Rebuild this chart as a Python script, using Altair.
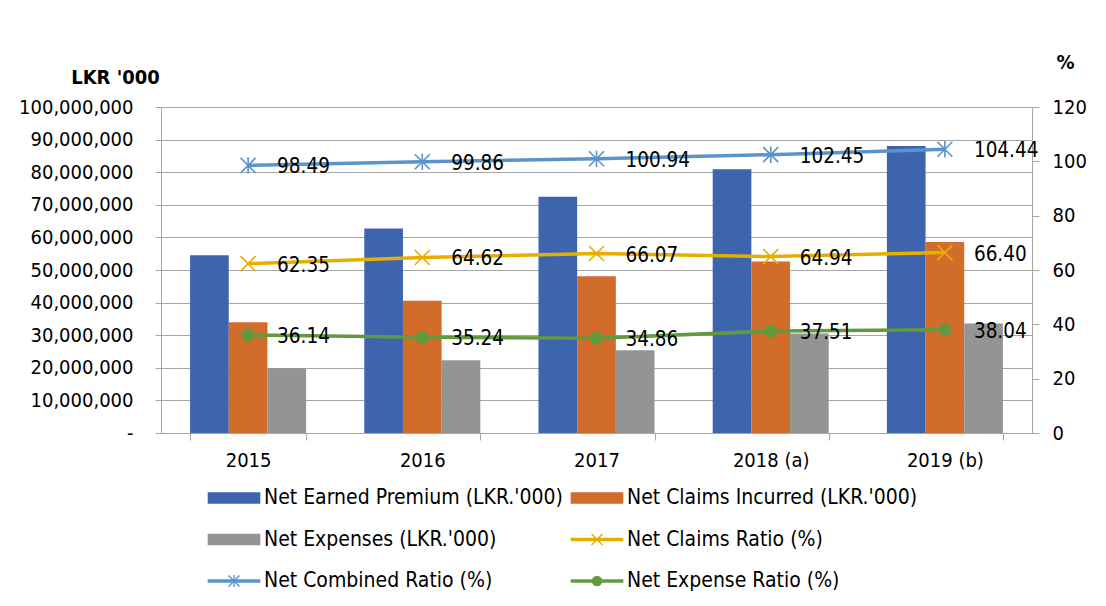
import altair as alt
import pandas as pd

FONT = "DejaVu Sans Condensed, Noto Sans, sans-serif"

years = ["2015", "2016", "2017", "2018 (a)", "2019 (b)"]

bar_series = ["Net Earned Premium (LKR.'000)", "Net Claims Incurred (LKR.'000)", "Net Expenses (LKR.'000)"]
net_earned_premium = [54_500_000, 62_700_000, 72_500_000, 80_900_000, 88_000_000]
net_claims_incurred = [34_000_000, 40_600_000, 48_100_000, 52_600_000, 58_600_000]
net_expenses = [19_900_000, 22_300_000, 25_400_000, 30_500_000, 33_600_000]

line_series = ["Net Claims Ratio (%)", "Net Combined Ratio (%)", "Net Expense Ratio (%)"]
net_claims_ratio = [62.35, 64.62, 66.07, 64.94, 66.40]
net_combined_ratio = [98.49, 99.86, 100.94, 102.45, 104.44]
net_expense_ratio = [36.14, 35.24, 34.86, 37.51, 38.04]

left_ticks = [0, 10_000_000, 20_000_000, 30_000_000, 40_000_000, 50_000_000,
              60_000_000, 70_000_000, 80_000_000, 90_000_000, 100_000_000]
right_ticks = [0, 20, 40, 60, 80, 100, 120]

all_series = bar_series + line_series
series_colors = ["#3d64ad", "#d26c2b", "#949494", "#e6ae00", "#5b93cb", "#63993e"]
X_PATH = "M-1,-1L1,1M-1,1L1,-1"
STAR_PATH = "M-1,-1L1,1M-1,1L1,-1M0,-1.1L0,1.1"
marker_shapes = [X_PATH, STAR_PATH, "circle"]

# ---- tables
bar_rows = []
for s, vals in zip(bar_series, [net_earned_premium, net_claims_incurred, net_expenses]):
    for y, v in zip(years, vals):
        bar_rows.append({"year": y, "series": s, "value": v})
bars_df = pd.DataFrame(bar_rows)

line_rows = []
for s, vals in zip(line_series, [net_claims_ratio, net_combined_ratio, net_expense_ratio]):
    for y, v in zip(years, vals):
        line_rows.append({"year": y, "series": s, "value": v})
lines_df = pd.DataFrame(line_rows)

color_scale = alt.Scale(domain=all_series, range=series_colors)
shape_scale = alt.Scale(domain=line_series, range=marker_shapes)

GRAY = "#a6a6a6"

x_axis = alt.Axis(title=None, labelFont=FONT, labelFontSize=20, labelColor="#000000",
                  labelPadding=10, tickBand="extent", tickSize=7, tickColor=GRAY,
                  domainColor=GRAY, labelAngle=0, grid=False)
x_scale = alt.Scale(domain=years, paddingInner=0.334, paddingOuter=0.167)

bars = alt.Chart(bars_df).mark_bar().encode(
    x=alt.X("year:N", scale=x_scale, axis=x_axis, sort=years),
    xOffset=alt.XOffset("series:N", sort=bar_series, scale=alt.Scale(paddingInner=0, paddingOuter=0)),
    y=alt.Y("value:Q", scale=alt.Scale(domain=[0, 100_000_000], nice=False),
            axis=alt.Axis(values=left_ticks, orient="left", grid=True, gridColor=GRAY,
                          domainColor=GRAY, tickColor=GRAY, tickSize=6, labelPadding=22,
                          labelFont=FONT, labelFontSize=20, labelColor="#000000",
                          labelExpr="datum.value == 0 ? '-\u00a0\u00a0' : format(datum.value, ',')",
                          title="LKR '000", titleAngle=0, titleX=-46, titleY=-30,
                          titleAlign="center", titleBaseline="middle", titleFont=FONT,
                          titleFontSize=20, titleFontWeight="bold", titleColor="#000000")),
    color=alt.Color("series:N", scale=color_scale, legend=None),
)

right_y = alt.Y("value:Q", scale=alt.Scale(domain=[0, 120], nice=False),
                axis=alt.Axis(values=right_ticks, orient="right", grid=False,
                              domainColor=GRAY, tickColor=GRAY, tickSize=7, labelPadding=13,
                              labelFont=FONT, labelFontSize=20, labelColor="#000000",
                              title="%", titleAngle=0, titleX=33, titleY=-45,
                              titleAlign="center", titleBaseline="middle", titleFont=FONT,
                              titleFontSize=20, titleFontWeight="bold", titleColor="#000000"))
line_x = alt.X("year:N", scale=x_scale, axis=x_axis, sort=years)

lines = alt.Chart(lines_df).mark_line(strokeWidth=3.5).encode(
    x=line_x, y=right_y,
    color=alt.Color("series:N", scale=color_scale, legend=None),
    detail="series:N",
)
stroke_pts = alt.Chart(lines_df).transform_filter(
    alt.FieldOneOfPredicate(field="series", oneOf=line_series[:2])
).mark_point(filled=False, size=225, strokeWidth=1.6, opacity=1).encode(
    x=line_x, y=right_y,
    shape=alt.Shape("series:N", scale=shape_scale, legend=None),
    color=alt.Color("series:N", scale=color_scale, legend=None),
)
circle_pts = alt.Chart(lines_df).transform_filter(
    alt.FieldEqualPredicate(field="series", equal=line_series[2])
).mark_point(filled=True, size=170, opacity=1).encode(
    x=line_x, y=right_y,
    shape=alt.Shape("series:N", scale=shape_scale, legend=None),
    color=alt.Color("series:N", scale=color_scale, legend=None),
)
labels = alt.Chart(lines_df).mark_text(align="left", baseline="middle", dx=29, dy=2,
                                       font=FONT, fontSize=20.5, color="#000000").encode(
    x=line_x, y=right_y,
    text=alt.Text("value:Q", format=".2f"),
)

right_layer = alt.layer(lines, stroke_pts, circle_pts, labels)
main = alt.layer(bars, right_layer).resolve_scale(y="independent").properties(width=871, height=326)

# ---- legend panel
leg_df = pd.DataFrame({
    "series": all_series,
    "row": [i // 2 for i in range(len(all_series))],
    "col": [i % 2 for i in range(len(all_series))],
    "kind": ["bar"] * len(bar_series) + ["line"] * len(line_series),
})
lx = alt.X("col:Q", scale=alt.Scale(domain=[0, 1], range=[73, 436]), axis=None)
ly = alt.Y("row:Q", scale=alt.Scale(domain=[0, 2], range=[0, 83]), axis=None)
lcolor = alt.Color("series:N", scale=color_scale, legend=None)

leg_rect = alt.Chart(leg_df).transform_filter("datum.kind == 'bar'").mark_point(
    filled=True, shape="M-1,-0.22H1V0.22H-1Z", size=2770, opacity=1
).encode(x=lx, y=ly, color=lcolor)
leg_line = alt.Chart(leg_df).transform_filter("datum.kind == 'line'").mark_point(
    filled=False, shape="M-1,0H1", size=2770, strokeWidth=3.5, opacity=1
).encode(x=lx, y=ly, color=lcolor)
leg_mark_stroke = alt.Chart(leg_df).transform_filter(
    alt.FieldOneOfPredicate(field="series", oneOf=line_series[:2])
).mark_point(filled=False, size=120, strokeWidth=1.4, opacity=1).encode(
    x=lx, y=ly, color=lcolor, shape=alt.Shape("series:N", scale=shape_scale, legend=None))
leg_mark_circle = alt.Chart(leg_df).transform_filter(
    alt.FieldEqualPredicate(field="series", equal=line_series[2])
).mark_point(filled=True, size=110, opacity=1).encode(
    x=lx, y=ly, color=lcolor, shape=alt.Shape("series:N", scale=shape_scale, legend=None))
leg_text = alt.Chart(leg_df).mark_text(align="left", baseline="middle", dx=30, font=FONT,
                                       fontSize=21, color="#000000").encode(
    x=lx, y=ly, text="series:N")

legend = alt.layer(leg_rect, leg_line, leg_mark_stroke, leg_mark_circle, leg_text).properties(
    width=871, height=83)

chart = alt.vconcat(main, legend, spacing=17).configure(
    font=FONT, background="white", view=alt.ViewConfig(stroke=None)).properties(
    padding={"left": 10, "top": 44, "right": 5, "bottom": 5})

chart.save("out.html", embed_options={"renderer": "svg", "actions": False})
